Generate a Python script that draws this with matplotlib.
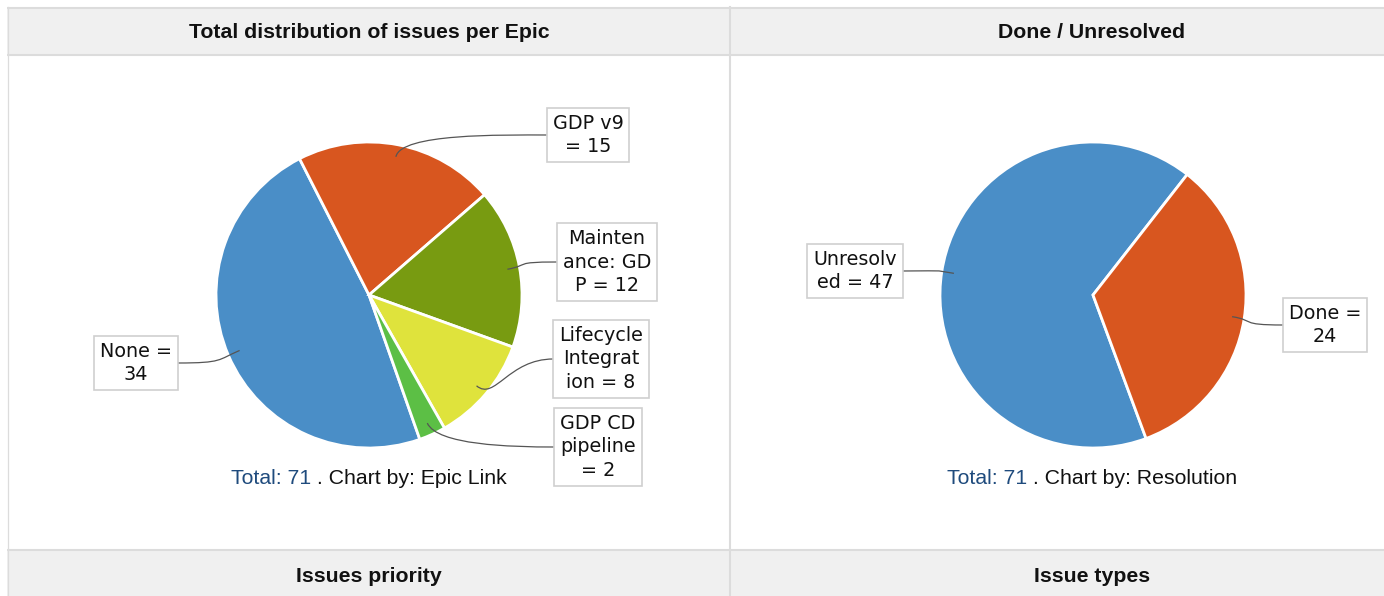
import numpy as np
import matplotlib
matplotlib.use("Agg")
import matplotlib.pyplot as plt
from matplotlib.patches import Rectangle
from matplotlib.path import Path
from matplotlib.patches import PathPatch

W, H = 1384, 596

# chart 1: issues per epic
epic_labels = ["None =\n34", "GDP v9\n= 15", "Mainten\nance: GD\nP = 12",
               "Lifecycle\nIntegrat\nion = 8", "GDP CD\npipeline\n= 2"]
epic_counts = [34, 15, 12, 8, 2]
epic_colors = ["#4a8ec7", "#d8561f", "#789b11", "#dfe33c", "#5cbf45"]
epic_boxes = [(136, 363), (588, 135), (607, 262), (601, 359), (598, 447)]

# chart 2: done / unresolved
res_labels = ["Unresolv\ned = 47", "Done =\n24"]
res_counts = [47, 24]
res_colors = ["#4a8ec7", "#d8561f"]
res_boxes = [(855, 271), (1325, 325)]

titles = ["Total distribution of issues per Epic", "Done / Unresolved",
          "Issues priority", "Issue types"]
footers = [("Total: 71", " . Chart by: Epic Link"),
           ("Total: 71", " . Chart by: Resolution")]

fig = plt.figure(figsize=(W / 100, H / 100), dpi=100)
ax = fig.add_axes([0, 0, 1, 1])


def Y(y):
    return H - y


def fix_limits():
    ax.set_xlim(0, W)
    ax.set_ylim(0, H)
    ax.set_aspect("auto")


grid = "#dcdcdc"
# header rows
ax.add_patch(Rectangle((7, Y(56)), W - 7, 48, facecolor="#f0f0f0", edgecolor="none"))
ax.add_patch(Rectangle((7, Y(596)), W - 7, 46, facecolor="#f0f0f0", edgecolor="none"))
for yy in [8, 55, 550]:
    ax.plot([7, W], [Y(yy), Y(yy)], color=grid, lw=1.5, solid_capstyle="butt")
ax.plot([7.5, 7.5], [Y(7), 0], color=grid, lw=0.9)
ax.plot([730, 730], [Y(7), 0], color=grid, lw=1.5)

hfont = dict(family="Liberation Sans", fontsize=15.3, fontweight="bold", color="#111111")
ax.text(369, Y(33), titles[0], ha="center", va="center", **hfont)
ax.text(1092, Y(33), titles[1], ha="center", va="center", **hfont)
ax.text(369, Y(576), titles[2], ha="center", va="center", **hfont)
ax.text(1092, Y(576), titles[3], ha="center", va="center", **hfont)


def draw_pie(counts, colors, labels, boxes, center, start):
    R = 153
    wedges, _ = ax.pie(counts, colors=colors, startangle=start, counterclock=False,
                       center=center, radius=R, frame=True,
                       wedgeprops=dict(edgecolor="white", linewidth=2))
    fix_limits()
    for w, lab, (bx, by) in zip(wedges, labels, boxes):
        mid = np.deg2rad((w.theta1 + w.theta2) / 2)
        u = np.array([np.cos(mid), np.sin(mid)])
        p0 = np.array(center) + u * R * 0.92
        t = ax.text(bx, Y(by), lab, ha="center", va="center", multialignment="center",
                    family="DejaVu Sans", fontsize=13.8, color="#111111", linespacing=1.32,
                    bbox=dict(boxstyle="square,pad=0.3", facecolor="white",
                              edgecolor="#cfcfcf", linewidth=1.2), zorder=5)
        fig.canvas.draw()
        bb = t.get_bbox_patch().get_window_extent()
        if bx > center[0]:
            p3 = np.array([bb.x0, Y(by)])
            s = 1
        else:
            p3 = np.array([bb.x1, Y(by)])
            s = -1
        p1 = p0 + u * 24
        p2 = p3 - np.array([s * 45, 0])
        path = Path([p0, p1, p2, p3], [Path.MOVETO, Path.CURVE4, Path.CURVE4, Path.CURVE4])
        ax.add_patch(PathPatch(path, facecolor="none", edgecolor="#555555", lw=0.9, zorder=4))


fix_limits()
draw_pie(epic_counts, epic_colors, epic_labels, epic_boxes, (369, Y(295)), -70.6)
draw_pie(res_counts, res_colors, res_labels, res_boxes, (1093, Y(295)), -69.7)

r = fig.canvas.get_renderer()
ffont = dict(family="Liberation Sans", fontsize=15.3)
for (a, b), cx in zip(footers, [369, 1092]):
    t1 = ax.text(0, Y(484), a, ha="left", va="baseline", color="#1f4b7d", **ffont)
    t2 = ax.text(0, Y(484), b, ha="left", va="baseline", color="#111111", **ffont)
    w1 = t1.get_window_extent(r).width
    w2 = t2.get_window_extent(r).width
    x0 = cx - (w1 + w2) / 2
    t1.set_x(x0)
    t2.set_x(x0 + w1)

fix_limits()
ax.axis("off")
fig.savefig("out.png", dpi=100)
